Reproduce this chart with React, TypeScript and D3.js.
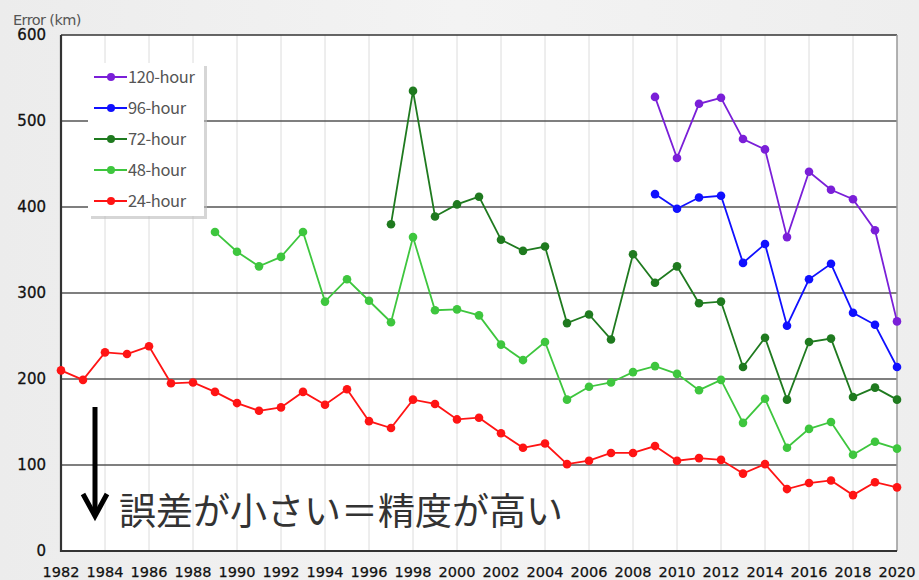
import * as d3 from "d3";

const years = d3.range(1982, 2021);
const tickYears = d3.range(1982, 2021, 2);
const yTicks = [0, 100, 200, 300, 400, 500, 600];

// errors (km), null where not forecast
const h24 = [210, 199, 231, 229, 238, 195, 196, 185, 172, 163, 167, 185, 170, 188, 151, 143, 176, 171, 153, 155, 137, 120, 125, 101, 105, 114, 114, 122, 105, 108, 106, 90, 101, 72, 79, 82, 65, 80, 74];
const h48 = [null, null, null, null, null, null, null, 371, 348, 331, 342, 371, 290, 316, 291, 266, 365, 280, 281, 274, 240, 222, 243, 176, 191, 196, 208, 215, 206, 187, 199, 149, 177, 120, 142, 150, 112, 127, 119];
const h72 = [null, null, null, null, null, null, null, null, null, null, null, null, null, null, null, 380, 535, 389, 403, 412, 362, 349, 354, 265, 275, 246, 345, 312, 331, 288, 290, 214, 248, 176, 243, 247, 179, 190, 176];
const h96 = [415, 398, 411, 413, 335, 357, 262, 316, 334, 277, 263, 214];
const h120 = [528, 457, 520, 527, 479, 467, 365, 441, 420, 409, 373, 267];
const lateYears = d3.range(2009, 2021);

const series = [
  { label: "120-hour", color: "#7a1fd8", years: lateYears, values: h120 },
  { label: "96-hour", color: "#1010ff", years: lateYears, values: h96 },
  { label: "72-hour", color: "#1f7a1f", years, values: h72 },
  { label: "48-hour", color: "#3ec63e", years, values: h48 },
  { label: "24-hour", color: "#ff1414", years, values: h24 },
];

export default function App() {
  const W = 919, H = 580;
  const x = d3.scaleLinear().domain([1982, 2020]).range([61, 897]);
  const y = d3.scaleLinear().domain([0, 600]).range([551, 35]);
  const font = "'DejaVu Sans', sans-serif";
  const jp = "'Noto Sans CJK JP', sans-serif";

  return (
    <div style={{ position: "fixed", left: 0, top: 0, width: W, height: H, overflow: "hidden" }}>
      <svg width={W} height={H} style={{ display: "block" }}>
        <defs>
          <linearGradient id="bg" x1="0" x2="1" y1="0" y2="0">
            <stop offset="0" stopColor="#ececec" />
            <stop offset="0.5" stopColor="#f3f3f3" />
            <stop offset="1" stopColor="#eeeeee" />
          </linearGradient>
        </defs>
        <rect width={W} height={H} fill="url(#bg)" />
        <rect x={x(1982)} y={y(600)} width={x(2020) - x(1982)} height={y(0) - y(600)} fill="#fff" />

        {tickYears.slice(1, -1).map(t => (
          <line key={t} x1={x(t)} x2={x(t)} y1={y(600)} y2={y(0)} stroke="#dcdcdc" strokeWidth={1} />
        ))}
        {yTicks.slice(1, -1).map(t => (
          <line key={t} x1={x(1982)} x2={x(2020)} y1={y(t)} y2={y(t)} stroke="#555" strokeWidth={1.3} />
        ))}
        <line x1={x(1982)} x2={x(2020)} y1={y(600)} y2={y(600)} stroke="#333" strokeWidth={1.5} />
        <line x1={x(2020)} x2={x(2020)} y1={y(600)} y2={y(0)} stroke="#999" strokeWidth={1.5} />
        <line x1={x(1982)} x2={x(1982)} y1={y(600)} y2={y(0) + 1} stroke="#333" strokeWidth={2.2} />
        <line x1={x(1982) - 1} x2={x(2020)} y1={y(0)} y2={y(0)} stroke="#333" strokeWidth={2.2} />

        {yTicks.map(t => (
          <text key={t} x={46} y={y(t)} dy="0.36em" textAnchor="end" fontFamily={font} fontSize={15} fill="#111" stroke="#111" strokeWidth={0.3}>{t}</text>
        ))}
        {tickYears.map(t => (
          <text key={t} x={x(t)} y={577} textAnchor="middle" fontFamily={font} fontSize={14.5} fill="#111" stroke="#111" strokeWidth={0.25}>{t}</text>
        ))}
        <text x={13} y={25} fontFamily={font} fontSize={14.5} fill="#555" letterSpacing={-0.6}>Error (km)</text>

        {series.slice().reverse().map(s => {
          const pts = s.years.map((yr, i) => ({ yr, v: s.values[i] })).filter(d => d.v != null);
          const line = d3.line<{ yr: number; v: number | null }>().x(d => x(d.yr)).y(d => y(d.v as number));
          return (
            <g key={s.label}>
              <path d={line(pts) ?? ""} fill="none" stroke={s.color} strokeWidth={1.8} />
              {pts.map(d => (
                <circle key={d.yr} cx={x(d.yr)} cy={y(d.v as number)} r={4.3} fill={s.color} />
              ))}
            </g>
          );
        })}

        <rect x={91} y={66} width={116} height={153} fill="#bbb" opacity={0.6} />
        <rect x={88} y={63} width={116} height={153} fill="#fff" />
        {series.map((s, i) => {
          const ly = 77 + i * 31;
          return (
            <g key={s.label}>
              <line x1={94} x2={127} y1={ly} y2={ly} stroke={s.color} strokeWidth={1.8} />
              <circle cx={111} cy={ly} r={4} fill={s.color} />
              <text x={128} y={ly} dy="0.36em" fontFamily={jp} fontSize={16.5} fill="#555" letterSpacing={-0.4}>{s.label}</text>
            </g>
          );
        })}

        <line x1={95} x2={95} y1={407} y2={514} stroke="#000" strokeWidth={5} />
        <polyline points="83,494 95,516 107,494" fill="none" stroke="#000" strokeWidth={5} strokeLinejoin="miter" />
        <text x={119} y={525} fontFamily={jp} fontSize={37} fill="#333">誤差が小さい＝精度が高い</text>
      </svg>
    </div>
  );
}
